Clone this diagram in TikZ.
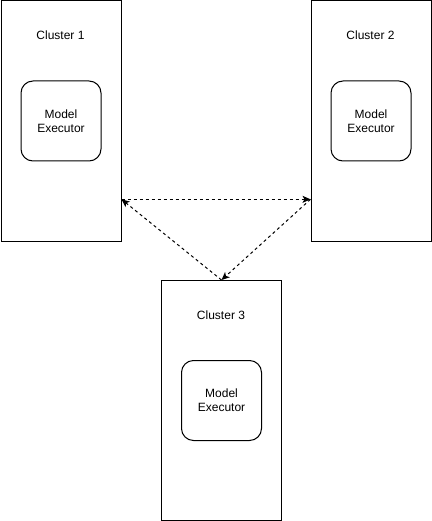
\documentclass[tikz,border=0pt]{standalone}
\usepackage{fontspec}
\setmainfont{Liberation Sans}
\usetikzlibrary{arrows.meta,calc}
\begin{document}
\begin{tikzpicture}[x=1pt,y=-1pt,
  cluster/.style={draw=black,line width=1pt,minimum width=120pt,minimum height=240pt,inner sep=0pt,anchor=north west},
  exec/.style={draw=black,line width=1pt,rounded corners=12pt,minimum width=80pt,minimum height=80pt,inner sep=0pt,anchor=north west,align=center,font=\fontsize{12pt}{14pt}\selectfont},
  title/.style={font=\fontsize{12pt}{14pt}\selectfont,inner sep=0pt},
  link/.style={line width=1pt,dash pattern=on 3pt off 3pt,-{Stealth[length=8pt,width=7pt,inset=2pt]}}]
\useasboundingbox (0,0) rectangle (431,521);
\node[cluster] (c1) at (0.5,0.5) {};
\node[cluster] (c2) at (310.5,0.5) {};
\node[cluster] (c3) at (161,280) {};
\node[title] (t1) at (60.5,35) {Cluster 1};
\node[title] (t2) at (370.5,35) {Cluster 2};
\node[title] (t3) at (221,315) {Cluster 3};
\node[exec] (e1) at (20.5,80.5) {Model\\Executor};
\node[exec] (e2) at (330.5,80.5) {Model\\Executor};
\node[exec] (e3) at (181,360) {Model\\Executor};
\coordinate (p1) at ($(c1.north east)!0.825!(c1.south east)$);
\coordinate (p2) at ($(c2.north west)!0.825!(c2.south west)$);
\draw[link] (p1) -- (p2);
\draw[link] (p2) -- (c3.north);
\draw[link] (c3.north) -- (p1);
\end{tikzpicture}
\end{document}
